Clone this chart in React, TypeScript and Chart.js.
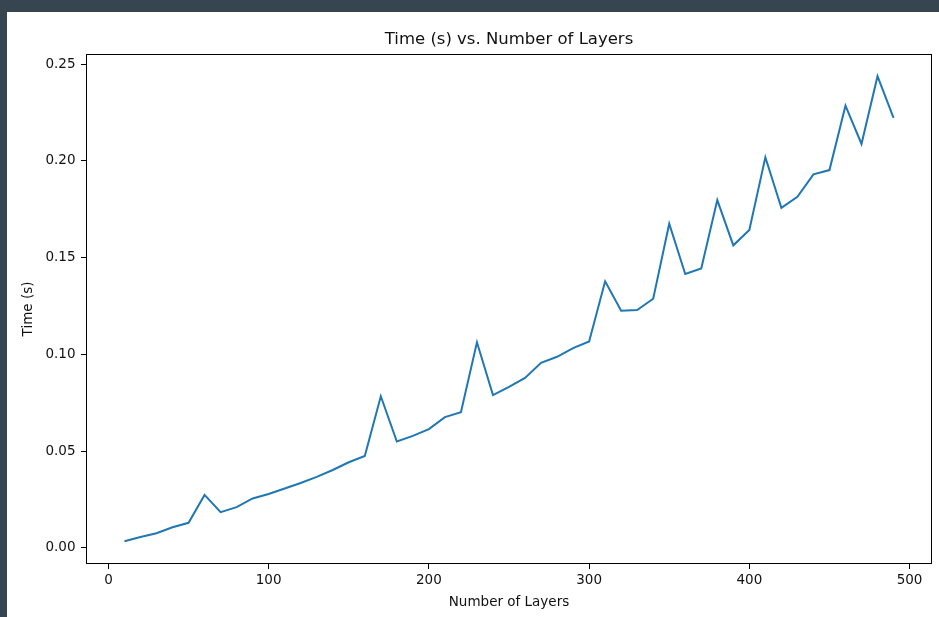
import React, { useEffect, useRef } from "react";
import { Chart, registerables } from "chart.js";

Chart.register(...registerables);

const chartTitle = "Time (s) vs. Number of Layers";
const xAxisTitle = "Number of Layers";
const yAxisTitle = "Time (s)";

const layers = [
  10, 20, 30, 40, 50, 60, 70, 80, 90, 100,
  110, 120, 130, 140, 150, 160, 170, 180, 190, 200,
  210, 220, 230, 240, 250, 260, 270, 280, 290, 300,
  310, 320, 330, 340, 350, 360, 370, 380, 390, 400,
  410, 420, 430, 440, 450, 460, 470, 480, 490,
];

const times = [
  0.0034, 0.0056, 0.0075, 0.0106, 0.0129, 0.0273, 0.0184, 0.0210, 0.0255, 0.0278,
  0.0306, 0.0335, 0.0366, 0.0402, 0.0442, 0.0474, 0.0783, 0.0549, 0.0578, 0.0613,
  0.0675, 0.0701, 0.1062, 0.0789, 0.0832, 0.0878, 0.0956, 0.0987, 0.1032, 0.1066,
  0.1377, 0.1225, 0.1229, 0.1287, 0.1675, 0.1415, 0.1444, 0.1797, 0.1563, 0.1642,
  0.2018, 0.1757, 0.1814, 0.1930, 0.1952, 0.2285, 0.2087, 0.2437, 0.2222,
];

const xTickValues = [0, 100, 200, 300, 400, 500];
const yTickValues = [0.0, 0.05, 0.1, 0.15, 0.2, 0.25];

const FONT = "'DejaVu Sans', sans-serif";

const framePlugin = {
  id: "frame",
  afterDraw(chart: any) {
    const { ctx, chartArea } = chart;
    ctx.save();
    ctx.strokeStyle = "#000";
    ctx.lineWidth = 1;
    const l = Math.round(chartArea.left) + 0.5;
    const t = Math.round(chartArea.top) + 0.5;
    const r = Math.round(chartArea.right) - 0.5;
    const b = Math.round(chartArea.bottom) - 0.5;
    ctx.strokeRect(l, t, r - l, b - t);
    ctx.restore();
  },
};

export default function App() {
  const canvasRef = useRef<HTMLCanvasElement | null>(null);

  useEffect(() => {
    const canvas = canvasRef.current;
    if (!canvas) return;
    const points = layers.map((x, i) => ({ x, y: times[i] }));
    const chart = new Chart(canvas, {
      type: "line",
      data: {
        datasets: [
          {
            data: points,
            borderColor: "#1f77b4",
            borderWidth: 2,
            pointRadius: 0,
            fill: false,
            tension: 0,
          },
        ],
      },
      plugins: [framePlugin],
      options: {
        animation: false,
        responsive: false,
        maintainAspectRatio: false,
        layout: { padding: { left: 0, top: 0, right: 7, bottom: 0 } },
        plugins: {
          legend: { display: false },
          tooltip: { enabled: false },
          title: {
            display: true,
            text: chartTitle,
            fullSize: false,
            color: "#111",
            font: { family: FONT, size: 16.5, weight: "normal", lineHeight: 1.2 },
            padding: { top: 30, bottom: 4.2 },
          },
        },
        scales: {
          x: {
            type: "linear",
            min: -14,
            max: 514,
            afterBuildTicks(scale: any) {
              scale.ticks = xTickValues.map((v) => ({ value: v }));
            },
            afterFit(scale: any) {
              scale.height = 53;
            },
            grid: {
              drawOnChartArea: false,
              drawTicks: true,
              tickLength: 5,
              color: "#000",
            },
            border: { display: false },
            ticks: {
              color: "#111",
              padding: 3,
              maxRotation: 0,
              font: { family: FONT, size: 13.5, lineHeight: 1.2 },
              callback: (v: any) => String(v),
            },
            title: {
              display: true,
              text: xAxisTitle,
              color: "#111",
              font: { family: FONT, size: 13.5, lineHeight: 1.2 },
              padding: { top: 0, bottom: 6.4 },
            },
          },
          y: {
            type: "linear",
            min: -0.0084,
            max: 0.2552,
            afterBuildTicks(scale: any) {
              scale.ticks = yTickValues.map((v) => ({ value: v }));
            },
            afterFit(scale: any) {
              scale.width = 86;
            },
            grid: {
              drawOnChartArea: false,
              drawTicks: true,
              tickLength: 5,
              color: "#000",
            },
            border: { display: false },
            ticks: {
              color: "#111",
              padding: 5.5,
              font: { family: FONT, size: 13.5, lineHeight: 1.2 },
              callback: (v: any) => Number(v).toFixed(2),
            },
            title: {
              display: true,
              text: yAxisTitle,
              color: "#111",
              font: { family: FONT, size: 13.5, lineHeight: 1.2 },
              padding: { top: 20, bottom: 0 },
            },
          },
        },
      },
    });
    return () => chart.destroy();
  }, []);

  return (
    <div
      style={{
        position: "fixed",
        left: 0,
        top: 0,
        width: 939,
        height: 617,
        background: "#36454f",
        overflow: "hidden",
      }}
    >
      <div
        style={{
          position: "absolute",
          left: 7,
          top: 12,
          width: 932,
          height: 605,
          background: "#ffffff",
        }}
      />
      <canvas
        ref={canvasRef}
        width={939}
        height={617}
        style={{ position: "absolute", left: 0, top: 0, width: 939, height: 617 }}
      />
    </div>
  );
}
